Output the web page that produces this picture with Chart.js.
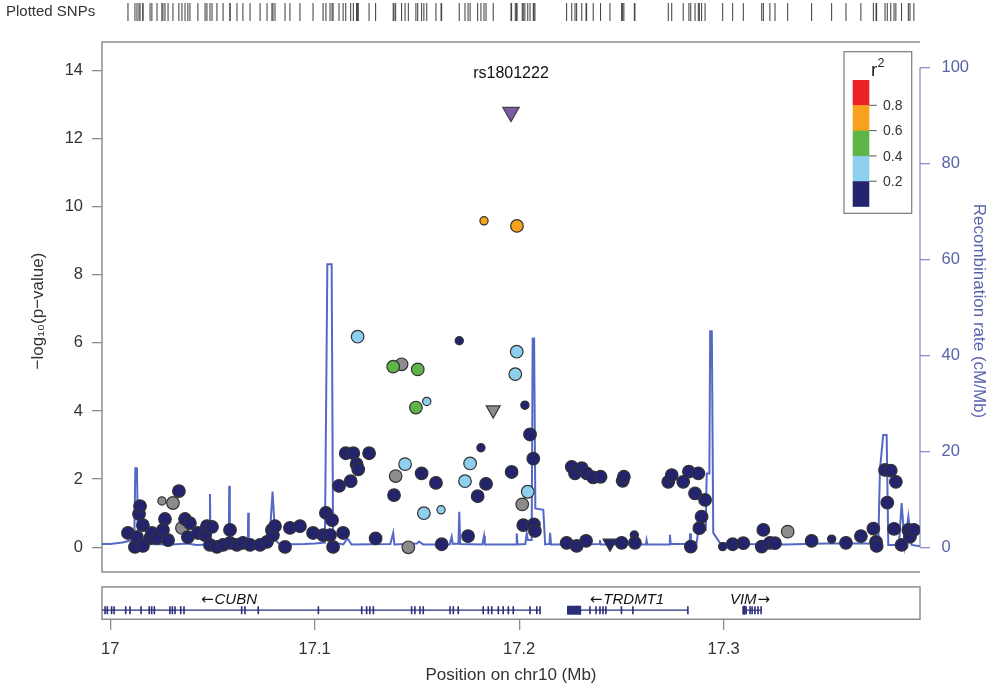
<!DOCTYPE html>
<html>
<head>
<meta charset="utf-8">
<script src="https://cdn.jsdelivr.net/npm/chart.js@4.4.1/dist/chart.umd.min.js"></script>
<style>
html,body{margin:0;padding:0;background:#fff;}
#wrap{width:992px;height:690px;position:relative;}
</style>
</head>
<body>
<div id="wrap"><canvas id="c"></canvas></div>
<script>
// ---------------- DATA ----------------
// SNP positions (Mb on chr10), -log10(p), LD r^2 with lead SNP (null = no LD info), marker class
const snpPos = [
  17.0087, 17.0121, 17.0131, 17.0141, 17.0146, 17.0160, 17.0160, 17.0195, 17.0204, 17.0229,
  17.0253, 17.0258, 17.0268, 17.0283, 17.0307, 17.0336, 17.0351, 17.0366, 17.0380, 17.0390,
  17.0429, 17.0464, 17.0473, 17.0488, 17.0498, 17.0522, 17.0552, 17.0586, 17.0586, 17.0620,
  17.0649, 17.0684, 17.0733, 17.0767, 17.0791, 17.0796, 17.0806, 17.0855, 17.0879, 17.0928,
  17.0992, 17.1041, 17.1055, 17.1075, 17.1085, 17.1090, 17.1119, 17.1139, 17.1152, 17.1176,
  17.1189, 17.1205, 17.1210, 17.1213, 17.1266, 17.1298, 17.1384, 17.1388, 17.1396, 17.1425,
  17.1442, 17.1458, 17.1495, 17.1504, 17.1523, 17.1534, 17.1548, 17.1593, 17.1618, 17.1621,
  17.1707, 17.1735, 17.1750, 17.1760, 17.1797, 17.1813, 17.1828, 17.1838, 17.1873, 17.1963,
  17.1981, 17.1988, 17.1989, 17.2015, 17.2020, 17.2028, 17.2042, 17.2053, 17.2069, 17.2072,
  17.2077, 17.2232, 17.2257, 17.2273, 17.2281, 17.2306, 17.2327, 17.2330, 17.2362, 17.2398,
  17.2444, 17.2501, 17.2506, 17.2512, 17.2563, 17.2566, 17.2729, 17.2746, 17.2802, 17.2830,
  17.2839, 17.2860, 17.2876, 17.2881, 17.2892, 17.2909, 17.2995, 17.3044, 17.3096, 17.3186,
  17.3194, 17.3226, 17.3251, 17.3313, 17.3430, 17.3528, 17.3598, 17.3671, 17.3732, 17.3745,
  17.3748, 17.3789, 17.3800, 17.3817, 17.3833, 17.3842, 17.3870, 17.3903, 17.3911, 17.3930
];
const snpLogP = [
  0.42, 0.01, 0.30, 0.98, 1.21, 0.65, 0.04, 0.27, 0.42, 0.27,
  1.36, 0.51, 0.83, 0.21, 1.30, 1.65, 0.57, 0.83, 0.30, 0.71,
  0.42, 0.36, 0.62, 0.07, 0.60, 0.01, 0.07, 0.51, 0.13, 0.07,
  0.13, 0.07, 0.07, 0.16, 0.51, 0.36, 0.62, 0.01, 0.57, 0.62,
  0.42, 0.36, 1.01, 0.36, 0.80, 0.01, 1.80, 0.42, 2.76, 1.94,
  2.76, 2.44, 6.18, 2.29, 2.76, 0.26, 5.30, 1.53, 2.09, 5.37,
  2.44, 0.00, 4.10, 5.22, 2.17, 1.00, 4.28, 1.89, 1.10, 0.09,
  6.06, 1.94, 0.33, 2.46, 1.50, 2.92, 9.58, 1.86, 4.03, 2.21,
  5.08, 5.74, 9.43, 1.26, 0.65, 4.17, 1.63, 3.31, 2.60, 0.67,
  0.48, 0.13, 2.36, 2.17, 0.04, 2.32, 0.19, 2.17, 2.05, 2.07,
  0.12, 0.13, 1.95, 2.07, 0.36, 0.13, 1.92, 2.12, 1.92, 2.22,
  0.02, 1.58, 2.17, 0.56, 0.90, 1.39, 0.02, 0.09, 0.12, 0.02,
  0.51, 0.13, 0.12, 0.46, 0.19, 0.24, 0.13, 0.33, 0.55, 0.16,
  0.04, 2.27, 1.31, 2.25, 0.54, 1.92, 0.07, 0.51, 0.31, 0.51
];
const snpR2 = [
  0.1, 0.1, 0.1, 0.1, 0.1, 0.1, 0.1, 0.1, 0.1, 0.1,
  null, 0.1, 0.1, 0.1, null, 0.1, null, 0.1, 0.1, 0.1,
  0.1, 0.1, 0.1, 0.1, 0.1, 0.1, 0.1, 0.1, 0.1, 0.1,
  0.1, 0.1, 0.1, 0.1, 0.1, 0.1, 0.1, 0.1, 0.1, 0.1,
  0.1, 0.1, 0.1, 0.1, 0.1, 0.1, 0.1, 0.1, 0.1, 0.1,
  0.1, 0.1, 0.3, 0.1, 0.1, 0.1, 0.5, 0.1, null, null,
  0.3, null, 0.5, 0.5, 0.1, 0.3, 0.3, 0.1, 0.3, 0.1,
  0.1, 0.3, 0.1, 0.3, 0.1, 0.1, 0.7, 0.1, null, 0.1,
  0.3, 0.3, 0.7, null, 0.1, 0.1, 0.3, 0.1, 0.1, 0.1,
  0.1, 0.1, 0.1, 0.1, 0.1, 0.1, 0.1, 0.1, 0.1, 0.1,
  0.1, 0.1, 0.1, 0.1, 0.1, 0.1, 0.1, 0.1, 0.1, 0.1,
  0.1, 0.1, 0.1, 0.1, 0.1, 0.1, 0.1, 0.1, 0.1, 0.1,
  0.1, 0.1, 0.1, null, 0.1, 0.1, 0.1, 0.1, 0.1, 0.1,
  0.1, 0.1, 0.1, 0.1, 0.1, 0.1, 0.1, 0.1, 0.1, 0.1
];
// marker class: 'L' large circle, 'S' small circle, 'T' downward triangle
const snpMarker = [
  'L','L','L','L','L','L','L','L','L','L',
  'S','L','L','L','L','L','L','L','L','L',
  'L','L','L','L','L','L','L','L','L','L',
  'L','L','L','L','L','L','L','L','L','L',
  'L','L','L','L','L','L','L','L','L','L',
  'L','L','L','L','L','L','L','L','L','L',
  'L','L','L','L','L','L','S','L','S','L',
  'S','L','L','L','L','S','S','L','T','L',
  'L','L','L','L','L','S','L','L','L','L',
  'L','L','L','L','L','L','L','L','L','L',
  'T','L','L','L','S','L','L','L','L','L',
  'L','L','L','L','L','L','S','L','L','L',
  'L','L','L','L','L','S','L','L','L','L',
  'L','L','L','L','L','L','L','L','L','L'
];
const leadName = 'rs1801222';
const leadPos = 17.1960;
const leadLogP = 12.77;

// Recombination rate (cM/Mb)
const recombPos = [
  16.9960, 17.0000, 17.0060, 17.0100, 17.0118, 17.0123, 17.0131, 17.0136, 17.0180, 17.0300,
  17.0380, 17.0420, 17.0486, 17.0488, 17.0491, 17.0560, 17.0580, 17.0582, 17.0585, 17.0640,
  17.0673, 17.0675, 17.0678, 17.0740, 17.0780, 17.0794, 17.0808, 17.0830, 17.0950, 17.1000,
  17.1050, 17.1062, 17.1083, 17.1090, 17.1140, 17.1160, 17.1180, 17.1370, 17.1384, 17.1390,
  17.1500, 17.1510, 17.1530, 17.1660, 17.1670, 17.1675, 17.1703, 17.1707, 17.1712, 17.1820,
  17.1828, 17.1832, 17.1985, 17.1988, 17.1992, 17.2030, 17.2037, 17.2042, 17.2061, 17.2066,
  17.2073, 17.2079, 17.2118, 17.2127, 17.2148, 17.2151, 17.2156, 17.2300, 17.2392, 17.2395,
  17.2399, 17.2620, 17.2623, 17.2627, 17.2734, 17.2737, 17.2741, 17.2833, 17.2836, 17.2840,
  17.2868, 17.2876, 17.2912, 17.2917, 17.2930, 17.2934, 17.2942, 17.2949, 17.2982, 17.3100,
  17.3300, 17.3500, 17.3700, 17.3756, 17.3764, 17.3780, 17.3797, 17.3805, 17.3857, 17.3870,
  17.3886, 17.3903, 17.3919, 17.3960
];
const recombRate = [
  0.7, 0.7, 1.0, 1.4, 1.5, 16.5, 16.5, 1.2, 0.7, 0.6,
  0.8, 0.5, 0.6, 11.1, 0.6, 0.5, 0.6, 12.8, 0.6, 0.6,
  0.6, 7.2, 0.6, 0.7, 2.0, 11.6, 1.5, 0.6, 0.7, 0.8,
  1.0, 59.0, 59.0, 1.0, 0.6, 1.9, 0.6, 0.7, 3.0, 0.6,
  0.8, 1.2, 0.6, 0.6, 2.2, 0.7, 0.8, 7.4, 0.7, 0.6,
  2.4, 0.6, 0.6, 2.9, 0.6, 0.7, 2.9, 1.5, 1.5, 43.5,
  43.5, 8.1, 7.8, 0.6, 0.7, 3.0, 0.6, 0.6, 0.7, 1.5,
  0.6, 0.6, 1.5, 0.6, 0.6, 2.6, 0.7, 0.7, 2.9, 1.0,
  1.0, 3.6, 3.6, 15.4, 15.4, 45.0, 45.0, 3.0, 0.9, 0.7,
  0.6, 0.8, 0.8, 0.6, 16.1, 23.4, 23.4, 0.5, 0.5, 9.2,
  0.5, 6.4, 0.5, 0.2
];

// Genes
const geneNames = ['CUBN', 'TRDMT1', 'VIM'];
const geneStart = [16.9900, 17.2234, 17.3095];
const geneEnd = [17.2102, 17.2825, 17.3183];
const geneStrand = ['-', '-', '+'];
const geneLabelPos = [17.0581, 17.2527, 17.3129];
const exonPos = [
  16.9975, 16.9986, 17.0007, 17.0019, 17.0076, 17.0097, 17.0151, 17.0191, 17.0203, 17.0216,
  17.0292, 17.0304, 17.0317, 17.0345, 17.0361, 17.0643, 17.0659, 17.0724, 17.1018, 17.1230,
  17.1254, 17.1270, 17.1287, 17.1474, 17.1490, 17.1515, 17.1531, 17.1662, 17.1678, 17.1702,
  17.1824, 17.1849, 17.1866, 17.1898, 17.1922, 17.1947, 17.1971, 17.2053, 17.2086, 17.2102,
  17.2346, 17.2376, 17.2395, 17.2410, 17.2424, 17.2500, 17.2556, 17.2825,
  17.3095, 17.3110, 17.3129, 17.3139, 17.3153, 17.3168, 17.3183
];
const exonBlockStart = [17.2234, 17.3095];
const exonBlockEnd = [17.2303, 17.3107];

// Axes
const xTicks = [17, 17.1, 17.2, 17.3];
const yTicks = [0, 2, 4, 6, 8, 10, 12, 14];
const recombTicks = [0, 20, 40, 60, 80, 100];
const r2Breaks = [0.2, 0.4, 0.6, 0.8];
const r2Labels = ['0.2', '0.4', '0.6', '0.8'];

// ---------------- STYLE / LAYOUT ----------------
const FONT = "'Liberation Sans', Arial, Helvetica, sans-serif";
const TEXT = '#333333';
const FRAME = '#8c8c8c';
const BLUE_TEXT = '#5a62ad';
const BLUE_AXIS = '#8a8fc4';
const RECOMB_LINE = '#5468c6';
const GENE_COL = '#2a2d7a';
const r2Colors = ['#24246e', '#8ecff0', '#5db548', '#f6a21c', '#ec2027'];
const NA_COL = '#8c8c8c';
const LEAD_COL = '#7e58a6';
const POINT_BORDER = '#333333';
const MARKER_RADIUS = {L: 6.3, S: 4.1, T: 8};

const X_MIN = 16.996, X_MAX = 17.396;
const Y_MIN = -2.133, Y_MAX = 16.0;
const RECOMB_PER_UNIT = 100 / 14.08;
// vertical placement of panels, in -log10(p) units
const TRACK = {frameTop: 14.826, frameBottom: -0.722, geneTop: -1.162, geneLine: -1.846, geneLabel: -1.552, rug: 15.706};

function r2Class(r) {
  if (r === null || r === undefined) return -1;
  let k = 0;
  while (k < r2Breaks.length && r >= r2Breaks[k]) k++;
  return k;
}

function mk(c) { return (c && c.raw && c.raw.m) ? c.raw.m : 'L'; }

function snpDataset(cls) {
  const pts = [];
  for (let i = 0; i < snpPos.length; i++) {
    if (r2Class(snpR2[i]) === cls) pts.push({x: snpPos[i], y: snpLogP[i], m: snpMarker[i]});
  }
  const color = cls < 0 ? NA_COL : r2Colors[cls];
  return {
    type: 'scatter', data: pts, yAxisID: 'y',
    backgroundColor: color, borderColor: POINT_BORDER, borderWidth: 1.2,
    pointRadius: c => MARKER_RADIUS[mk(c)],
    pointStyle: c => mk(c) === 'T' ? 'triangle' : 'circle',
    rotation: c => mk(c) === 'T' ? 180 : 0
  };
}

const datasets = [];
datasets.push({
  type: 'scatter', data: [{x: leadPos, y: leadLogP}], yAxisID: 'y',
  backgroundColor: LEAD_COL, borderColor: '#444', borderWidth: 1.2,
  pointStyle: 'triangle', rotation: 180, pointRadius: 9.5
});
[4, 3, 2, 1, 0, -1].forEach(c => datasets.push(snpDataset(c)));
datasets.push({
  type: 'line', yAxisID: 'y2',
  data: recombPos.map((p, i) => ({x: p, y: recombRate[i]})),
  borderColor: RECOMB_LINE, borderWidth: 2, pointRadius: 0, tension: 0, fill: false
});
// gene bodies
geneNames.forEach((g, i) => {
  datasets.push({
    type: 'line', yAxisID: 'y',
    data: [{x: geneStart[i], y: TRACK.geneLine}, {x: geneEnd[i], y: TRACK.geneLine}],
    borderColor: GENE_COL, borderWidth: 1.2, pointRadius: 0
  });
});
exonBlockStart.forEach((s, i) => {
  datasets.push({
    type: 'line', yAxisID: 'y',
    data: [{x: s, y: TRACK.geneLine}, {x: exonBlockEnd[i], y: TRACK.geneLine}],
    borderColor: GENE_COL, borderWidth: 9, borderCapStyle: 'butt', pointRadius: 0
  });
});
datasets.push({
  type: 'scatter', yAxisID: 'y',
  data: exonPos.map(p => ({x: p, y: TRACK.geneLine})),
  pointStyle: 'line', rotation: 90, pointRadius: 4,
  borderColor: GENE_COL, borderWidth: 1.6
});
// plotted SNP rug
datasets.push({
  type: 'scatter', yAxisID: 'y',
  data: snpPos.concat([leadPos]).map(p => ({x: p, y: TRACK.rug})),
  pointStyle: 'line', rotation: 90, pointRadius: 9,
  borderColor: '#3a3a3a', borderWidth: 1
});

function drawGeneLabel(ctx, text, arrowLeft, cx, cy) {
  const arrow = arrowLeft ? '\u2190' : '\u2192';
  ctx.font = 'italic 15px ' + FONT;
  const tw = ctx.measureText(text).width;
  ctx.font = "15px 'DejaVu Sans', " + FONT;
  const aw = ctx.measureText(arrow).width;
  const total = tw + aw + 1;
  let xs = cx - total / 2;
  ctx.textAlign = 'left'; ctx.textBaseline = 'middle'; ctx.fillStyle = '#111';
  if (arrowLeft) {
    ctx.fillText(arrow, xs, cy);
    ctx.font = 'italic 15px ' + FONT; ctx.fillText(text, xs + aw + 1, cy);
  } else {
    ctx.font = 'italic 15px ' + FONT; ctx.fillText(text, xs, cy);
    ctx.font = "15px 'DejaVu Sans', " + FONT; ctx.fillText(arrow, xs + tw + 1, cy);
  }
}

const decor = {
  id: 'decor',
  beforeDatasetsDraw(chart) {
    const {ctx, chartArea: ca, scales: {y, y2}} = chart;
    ctx.save();
    ctx.strokeStyle = FRAME; ctx.lineWidth = 1.5;
    const ft = y.getPixelForValue(TRACK.frameTop), fb = y.getPixelForValue(TRACK.frameBottom);
    ctx.beginPath();
    ctx.moveTo(ca.right, ft); ctx.lineTo(ca.left, ft); ctx.lineTo(ca.left, fb); ctx.lineTo(ca.right, fb);
    ctx.stroke();
    const gt = y.getPixelForValue(TRACK.geneTop);
    ctx.strokeRect(ca.left, gt, ca.right - ca.left, ca.bottom - 0.75 - gt);
    ctx.strokeStyle = BLUE_AXIS; ctx.lineWidth = 1.3;
    ctx.beginPath();
    ctx.moveTo(ca.right, y2.getPixelForValue(recombTicks[0]));
    ctx.lineTo(ca.right, y2.getPixelForValue(recombTicks[recombTicks.length - 1]));
    ctx.stroke();
    ctx.restore();
  },
  afterDatasetsDraw(chart) {
    const {ctx, chartArea: ca, scales: {x, y}} = chart;
    ctx.save();
    // Plotted SNPs label
    ctx.fillStyle = TEXT; ctx.font = '15px ' + FONT;
    ctx.textAlign = 'left'; ctx.textBaseline = 'middle';
    ctx.fillText('Plotted SNPs', 6, y.getPixelForValue(TRACK.rug));
    // lead label
    ctx.fillStyle = '#111'; ctx.font = '16px ' + FONT; ctx.textAlign = 'center';
    ctx.fillText(leadName, x.getPixelForValue(leadPos), y.getPixelForValue(leadLogP) - 38);
    // gene labels
    geneNames.forEach((g, i) => {
      drawGeneLabel(ctx, g, geneStrand[i] === '-', x.getPixelForValue(geneLabelPos[i]), y.getPixelForValue(TRACK.geneLabel));
    });
    // r2 legend
    const ft = y.getPixelForValue(TRACK.frameTop);
    const right = ca.right - 8.3, top = ft + 9.7, w = 67.7, h = 161.6, left = right - w;
    ctx.fillStyle = '#fff'; ctx.fillRect(left, top, w, h);
    ctx.strokeStyle = '#7a7a7a'; ctx.lineWidth = 1.2; ctx.strokeRect(left, top, w, h);
    ctx.fillStyle = '#222'; ctx.textAlign = 'left'; ctx.textBaseline = 'alphabetic';
    ctx.font = '19px ' + FONT; ctx.fillText('r', left + 27, top + 24);
    ctx.font = '12.5px ' + FONT; ctx.fillText('2', left + 33.5, top + 15.5);
    const bx = left + 8.7, bw = 16.6, bh = 25.3, by0 = top + 28.3;
    const n = r2Colors.length;
    for (let i = 0; i < n; i++) {
      ctx.fillStyle = r2Colors[n - 1 - i];
      ctx.fillRect(bx, by0 + i * bh, bw, bh + 0.3);
    }
    ctx.strokeStyle = '#555'; ctx.lineWidth = 1;
    ctx.font = '14px ' + FONT; ctx.fillStyle = TEXT; ctx.textBaseline = 'middle';
    for (let k = r2Breaks.length - 1; k >= 0; k--) {
      const yy = by0 + (r2Breaks.length - k) * bh;
      ctx.beginPath(); ctx.moveTo(bx + bw, yy); ctx.lineTo(bx + bw + 7.4, yy); ctx.stroke();
      ctx.fillText(r2Labels[k], bx + bw + 13.7, yy + 1);
    }
    ctx.restore();
  }
};

Chart.defaults.font.family = FONT;

new Chart(document.getElementById('c'), {
  type: 'scatter',
  data: {datasets},
  options: {
    responsive: true, maintainAspectRatio: false, animation: false, events: [],
    layout: {autoPadding: false, padding: {top: 2, left: 0, right: 0, bottom: 0}},
    plugins: {legend: {display: false}, tooltip: {enabled: false}},
    scales: {
      x: {
        type: 'linear', min: X_MIN, max: X_MAX, offset: false,
        afterBuildTicks: s => { s.ticks = xTicks.map(v => ({value: v})); },
        afterFit: s => { s.height = 70; s.paddingLeft = 0; s.paddingRight = 0; },
        ticks: {callback: v => String(v), font: {size: 16.5}, color: TEXT, padding: 10, maxRotation: 0, autoSkip: false},
        grid: {drawOnChartArea: false, drawTicks: true, tickLength: 10, color: FRAME, lineWidth: 1.3},
        border: {display: false},
        title: {display: true, text: 'Position on chr10 (Mb)', font: {size: 17}, color: TEXT, padding: {top: 0, bottom: 4}}
      },
      y: {
        type: 'linear', position: 'left', min: Y_MIN, max: Y_MAX,
        afterBuildTicks: s => { s.ticks = yTicks.map(v => ({value: v})); },
        afterFit: s => { s.width = 102; s.paddingTop = 0; s.paddingBottom = 0; },
        ticks: {font: {size: 16.5}, color: TEXT, padding: 9},
        grid: {drawOnChartArea: false, drawTicks: true, tickLength: 10, color: FRAME, lineWidth: 1.3},
        border: {display: false},
        title: {display: true, text: '\u2212log\u2081\u2080(p\u2212value)', font: {size: 17}, color: TEXT, padding: {top: 28, bottom: 0}}
      },
      y2: {
        type: 'linear', position: 'right', min: Y_MIN * RECOMB_PER_UNIT, max: Y_MAX * RECOMB_PER_UNIT,
        afterBuildTicks: s => { s.ticks = recombTicks.map(v => ({value: v})); },
        afterFit: s => { s.width = 72; s.paddingTop = 0; s.paddingBottom = 0; },
        ticks: {font: {size: 16.5}, color: BLUE_TEXT, padding: 11.5},
        grid: {drawOnChartArea: false, drawTicks: true, tickLength: 10, color: BLUE_AXIS, lineWidth: 1.3},
        border: {display: false},
        title: {display: true, text: 'Recombination rate (cM/Mb)', font: {size: 17}, color: BLUE_TEXT, padding: {top: 3, bottom: 0}}
      }
    }
  },
  plugins: [decor]
});
</script>
</body>
</html>
